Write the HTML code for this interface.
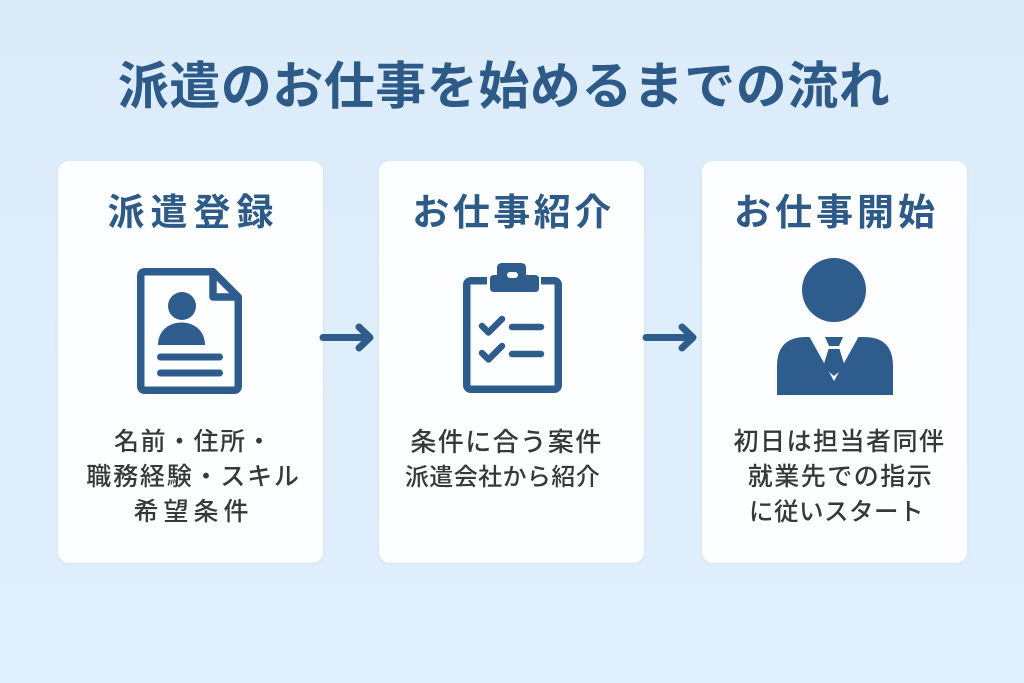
<!DOCTYPE html>
<html><head><meta charset="utf-8">
<style>
html,body{margin:0;padding:0;}
body{width:1024px;height:683px;overflow:hidden;position:relative;background:linear-gradient(180deg,#dbebf9 0%,#deeefb 60%,#dfeffc 100%);font-family:"Liberation Sans","Noto Sans CJK JP",sans-serif;}
.title{position:absolute;left:0;top:61px;width:1008px;text-align:center;font-size:51px;line-height:52px;font-weight:700;color:#2d5a87;letter-spacing:0.5px;white-space:nowrap;}
.card{position:absolute;top:161px;width:265px;height:402px;background:#fdfeff;border-radius:11px;box-shadow:0 1px 3px rgba(120,150,180,0.12);}
.h{position:absolute;left:0;width:100%;top:193px;text-align:center;font-size:37px;line-height:40px;font-weight:700;color:#2d5a87;letter-spacing:3px;white-space:nowrap;}
.t{position:absolute;left:0;width:100%;text-align:center;font-size:25px;line-height:35px;color:#383838;font-weight:500;letter-spacing:1.5px;white-space:nowrap;}
svg{position:absolute;left:0;top:0;}
</style></head><body>
<div class="title">派遣のお仕事を始めるまでの流れ</div>

<div class="card" style="left:58px;"></div>
<div class="card" style="left:379px;"></div>
<div class="card" style="left:702px;"></div>

<div class="h" style="left:61px;width:265px;top:193px;letter-spacing:6px;">派遣登録</div>
<div class="h" style="left:381px;width:265px;top:193px;letter-spacing:3.5px;">お仕事紹介</div>
<div class="h" style="left:704px;width:265px;top:193px;letter-spacing:4px;">お仕事開始</div>

<svg width="1024" height="683" viewBox="0 0 1024 683">
  <g fill="none" stroke="#2e5d8d" stroke-width="7.5" stroke-linejoin="round" stroke-linecap="round">
    <!-- document -->
    <path d="M144,271.75 H213 L238.25,297 V386 Q238.25,390.25 234,390.25 H145 Q140.75,390.25 140.75,386 V276 Q140.75,271.75 145,271.75 Z"/>
    <path d="M213,273 V297 H237"/>
    <line x1="160.5" y1="357" x2="219.5" y2="357" stroke-width="7"/>
    <line x1="160.5" y1="373" x2="219.5" y2="373" stroke-width="7"/>
    <!-- clipboard -->
    <rect x="466.75" y="280.75" width="91.5" height="108.5" rx="4"/>
    <path d="M482,326 L488.5,332.5 L502,319" stroke-width="6.5"/>
    <path d="M482,353 L488.5,359.5 L502,346" stroke-width="6.5"/>
    <line x1="512" y1="327" x2="541" y2="327" stroke-width="6.5"/>
    <line x1="512" y1="354" x2="541" y2="354" stroke-width="6.5"/>
    <!-- arrows -->
    <path d="M323,337.5 H369 M359,327 L370,337.5 L359,348" stroke-width="7"/>
    <path d="M646,337.5 H692 M682,327 L693,337.5 L682,348" stroke-width="7"/>
  </g>
  <g fill="#2e5d8d">
    <circle cx="182" cy="306" r="14"/>
    <path d="M158,345 C158,315 205,315 205,345 Z"/>
    <!-- clip -->
    <rect x="487" y="274" width="54" height="21" fill="#fdfeff"/>
    <path d="M497,275 V268 Q497,263 502,263 H521 Q526,263 526,268 V275 H535 Q539,275 539,279 V288 Q539,292 535,292 H494 Q490,292 490,288 V279 Q490,275 494,275 Z"/>
    <rect x="507" y="272" width="11" height="6" rx="3" fill="#fdfeff"/>
    <!-- person -->
    <circle cx="834" cy="290" r="32"/>
    <path d="M777,395 V366 Q777,337 806,337 H864 Q893,337 893,366 V395 Z"/>
  </g>
  <polygon points="809,336 859,336 834,381" fill="#fdfeff"/>
  <polygon points="825,337 843,337 839,346 829,346" fill="#2e5d8d"/>
  <polygon points="828.5,349 839.5,349 845,367 834,376 823,367" fill="#2e5d8d"/>
</svg>

<div class="t" style="left:61px;width:265px;top:425px;">名前・住所・</div>
<div class="t" style="left:61px;width:265px;top:460px;letter-spacing:1.8px;">職務経験・スキル</div>
<div class="t" style="left:61px;width:265px;top:495px;letter-spacing:5px;">希望条件</div>

<div class="t" style="left:374px;width:265px;top:425px;font-size:26px;letter-spacing:1.5px;">条件に合う案件</div>
<div class="t" style="left:370px;width:265px;top:460px;font-size:24px;letter-spacing:0.4px;">派遣会社から紹介</div>

<div class="t" style="left:707px;width:265px;top:425px;">初日は担当者同伴</div>
<div class="t" style="left:708px;width:265px;top:460px;">就業先での指示</div>
<div class="t" style="left:704px;width:265px;top:495px;letter-spacing:0.5px;font-size:24.5px;">に従いスタート</div>
</body></html>
